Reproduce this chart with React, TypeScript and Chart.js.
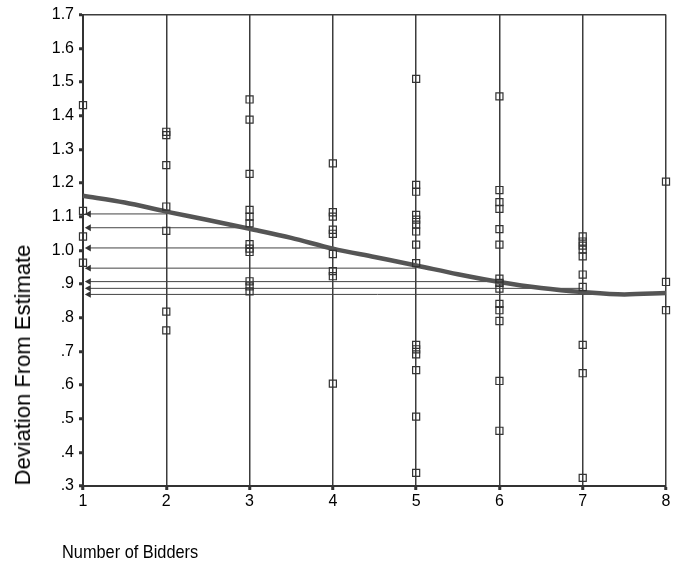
import React, { useEffect, useRef } from "react";
import { Chart, registerables } from "chart.js";

Chart.register(...registerables);

// Number of bidders (x categories)
const bidderCounts = [1, 2, 3, 4, 5, 6, 7, 8];

// Observed deviations from estimate, per number of bidders
const dev1 = [1.431, 1.117, 1.041, 0.963];
const dev2 = [1.352, 1.342, 1.253, 1.13, 1.058, 0.818, 0.762];
const dev3 = [1.448, 1.388, 1.227, 1.12, 1.1, 1.08, 1.018, 1.005, 0.995, 0.908, 0.893, 0.878];
const dev4 = [1.258, 1.113, 1.1, 1.061, 1.049, 0.989, 0.938, 0.923, 0.604];
const dev5 = [1.509, 1.194, 1.174, 1.105, 1.091, 1.076, 1.056, 1.017, 0.962, 0.719, 0.706, 0.691, 0.644, 0.506, 0.339];
const dev6 = [1.457, 1.179, 1.143, 1.123, 1.063, 1.017, 0.916, 0.903, 0.886, 0.841, 0.822, 0.79, 0.612, 0.464];
const dev7 = [1.041, 1.026, 1.014, 1.002, 0.982, 0.928, 0.891, 0.719, 0.635, 0.324];
const dev8 = [1.204, 0.906, 0.822];
const deviations = [dev1, dev2, dev3, dev4, dev5, dev6, dev7, dev8];

// Smoothed fit curve
const curveX = [1, 1.5, 2, 2.5, 3, 3.5, 4, 4.5, 5, 5.5, 6, 6.5, 7, 7.5, 8];
const curveY = [1.162, 1.142, 1.115, 1.09, 1.064, 1.037, 1.005, 0.98, 0.955, 0.929, 0.906, 0.888, 0.876, 0.869, 0.873];

// Predicted-value arrows (from the curve back to the y axis)
const arrowStartX = 1.07;
const arrowEndX = [2, 3, 4, 5, 6, 7, 8];
const arrowY = [1.108, 1.067, 1.007, 0.947, 0.907, 0.887, 0.869];

// Axis settings
const yMin = 0.3;
const yMax = 1.7;
const yStep = 0.1;

const xTitle = "Number of Bidders";
const yTitle = "Deviation From Estimate";

const FONT = "'Liberation Sans', Arial, sans-serif";
const INK = "#333333";

export default function App() {
  const canvasRef = useRef<HTMLCanvasElement | null>(null);

  useEffect(() => {
    if (!canvasRef.current) return;
    const scatterData: { x: number; y: number }[] = [];
    deviations.forEach((arr, i) => {
      arr.forEach((v) => scatterData.push({ x: bidderCounts[i], y: v }));
    });

    const arrowSets = arrowY.map((v, i) => ({
      type: "line" as const,
      data: [
        { x: arrowStartX, y: v },
        { x: arrowEndX[i], y: v },
      ],
      borderColor: "#444444",
      borderWidth: 1,
      pointStyle: "triangle" as const,
      rotation: 270,
      pointRadius: [4, 0],
      pointBackgroundColor: "#333333",
      pointBorderColor: "#333333",
      pointBorderWidth: 0,
      fill: false,
      clip: false,
      order: 3,
    }));

    const chart = new Chart(canvasRef.current, {
      type: "scatter",
      data: {
        datasets: [
          {
            type: "scatter",
            data: scatterData,
            pointStyle: "rect",
            pointRadius: 5,
            pointBorderWidth: 1.2,
            borderColor: "#333333",
            backgroundColor: "rgba(0,0,0,0)",
            clip: false,
            order: 1,
          },
          {
            type: "line",
            data: curveX.map((x, i) => ({ x, y: curveY[i] })),
            borderColor: "#555555",
            borderWidth: 4.5,
            pointRadius: 0,
            tension: 0.3,
            cubicInterpolationMode: "monotone",
            fill: false,
            clip: false,
            order: 2,
          },
          ...arrowSets,
        ] as any,
      },
      options: {
        responsive: false,
        animation: false,
        events: [],
        layout: { padding: { left: 0, top: 12, right: 15, bottom: 0 } },
        plugins: {
          legend: { display: false },
          tooltip: { enabled: false },
          title: { display: false },
        },
        scales: {
          x: {
            type: "linear",
            min: 1,
            max: 8,
            ticks: {
              stepSize: 1,
              color: "#000000",
              font: { family: FONT, size: 16 },
              padding: 2,
            },
            grid: {
              color: "#3c3c3c",
              lineWidth: 1.5,
              tickColor: INK,
              tickLength: 4,
              tickWidth: 3,
            },
            border: { color: INK, width: 2 },
            afterFit: (scale: any) => {
              scale.height = 83;
            },
          },
          y: {
            type: "linear",
            min: yMin,
            max: yMax,
            ticks: {
              stepSize: yStep,
              color: "#000000",
              font: { family: FONT, size: 16 },
              padding: 5,
              callback: (val: any) => {
                const n = Math.round(Number(val) * 10) / 10;
                const s = n.toFixed(1);
                return n >= 1 ? s : s.slice(1);
              },
            },
            grid: {
              color: (ctx: any) =>
                ctx.tick && Math.abs(ctx.tick.value - yMax) < 1e-6 ? "#3c3c3c" : "rgba(0,0,0,0)",
              lineWidth: 1.5,
              tickColor: INK,
              tickLength: 4,
              tickWidth: 3,
            },
            border: { color: INK, width: 2 },
            afterFit: (scale: any) => {
              scale.width = 83;
            },
          },
        },
      } as any,
    });
    return () => chart.destroy();
  }, []);

  return (
    <div
      style={{
        position: "absolute",
        left: 0,
        top: 0,
        width: 681,
        height: 569,
        background: "#ffffff",
        overflow: "hidden",
      }}
    >
      <canvas ref={canvasRef} width={681} height={569} style={{ display: "block" }} />
      <div
        style={{
          position: "absolute",
          left: 23,
          top: 365,
          transform: "translate(-50%, -50%) rotate(-90deg)",
          whiteSpace: "nowrap",
          fontFamily: FONT,
          fontSize: 22,
          color: "#000000",
        }}
      >
        {yTitle}
      </div>
      <div
        style={{
          position: "absolute",
          left: 62,
          top: 541,
          whiteSpace: "nowrap",
          fontFamily: FONT,
          fontSize: 19,
          color: "#000000",
          transform: "scaleX(0.86)",
          transformOrigin: "left center",
        }}
      >
        {xTitle}
      </div>
    </div>
  );
}
